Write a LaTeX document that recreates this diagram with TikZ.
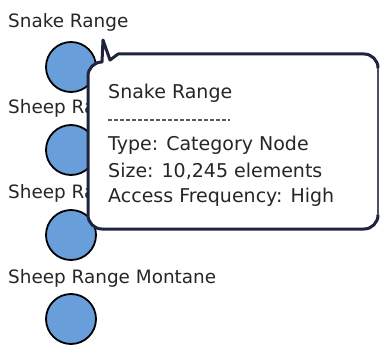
\documentclass[tikz,border=0pt]{standalone}
\usepackage{fontspec}
\setmainfont{DejaVu Sans}
\definecolor{rangeblue}{RGB}{104,158,218}
\definecolor{calloutink}{RGB}{30,36,62}
\tikzset{
  rangedot/.style={circle, draw=black, line width=1.8pt, fill=rangeblue, minimum size=50pt, inner sep=0pt},
  rangelabel/.style={anchor=west, inner sep=0pt, font=\fontsize{18.4}{19}\selectfont, text=black!85},
  tiptext/.style={anchor=west, inner sep=0pt, font=\fontsize{19}{20}\selectfont, text=black!85},
  calloutedge/.style={draw=calloutink, line width=3pt, line join=round, line cap=round},
  calloutside/.style={draw=calloutink!80, line width=1.3pt},
  rule/.style={draw=black!65, line width=1.6pt, dash pattern=on 4pt off 2pt}
}
\begin{document}
\begin{tikzpicture}[x=1pt, y=-1pt]
  \useasboundingbox (0,0) rectangle (380,345);

  % range markers with their names
  \node[rangelabel] (l1) at (8,22)  {Snake Range};
  \node[rangedot]   (c1) at (71,67) {};
  \node[rangelabel] (l2) at (8,108) {Sheep Range};
  \node[rangedot]   (c2) at (71,150) {};
  \node[rangelabel] (l3) at (8,193) {Sheep Range};
  \node[rangedot]   (c3) at (71,235) {};
  \node[rangelabel] (l4) at (8,278) {Sheep Range Montane};
  \node[rangedot]   (c4) at (71,319) {};

  % tooltip balloon with its tail pointing up-left
  \coordinate (tip) at (103,40);
  \fill[white]
    (tip) -- (110,60) -- (118,54) -- (364,54)
    arc[start angle=90, end angle=0, radius=14pt] -- (378,215)
    arc[start angle=0, end angle=-90, radius=14pt] -- (102,229)
    arc[start angle=-90, end angle=-180, radius=14pt] -- (88,76)
    arc[start angle=180, end angle=90, radius=14pt] -- cycle;
  % heavy outline on top, left and bottom
  \draw[calloutedge]
    (378,215) arc[start angle=0, end angle=-90, radius=14pt] -- (102,229)
    arc[start angle=-90, end angle=-180, radius=14pt] -- (88,76)
    arc[start angle=180, end angle=90, radius=14pt] -- (tip)
    -- (110,60) -- (118,54) -- (364,54)
    arc[start angle=90, end angle=0, radius=14pt];
  % lighter stroke on the right side
  \draw[calloutside] (378,68) -- (378,215);

  % tooltip contents
  \node[tiptext] (title) at (108,93) {Snake Range};
  \coordinate (ruleA) at (108,120);
  \coordinate (ruleB) at (230,120);
  \draw[rule] (ruleA) -- (ruleB);
  \node[tiptext] (type) at (108,145) {Type: Category Node};
  \node[tiptext] (size) at (108,171) {Size: 10,245 elements};
  \node[tiptext] (freq) at (108,197) {Access Frequency: High};
\end{tikzpicture}
\end{document}
